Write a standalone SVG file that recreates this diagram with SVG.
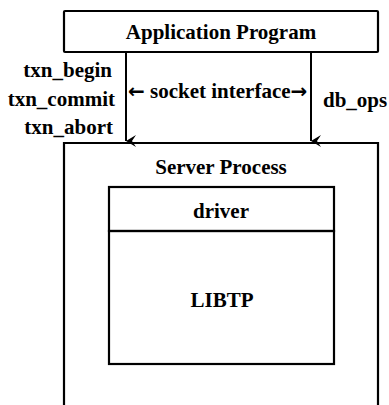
<svg xmlns="http://www.w3.org/2000/svg" width="389" height="405" viewBox="0 0 389 405">
<style>
  text { font-family: "Liberation Serif", "Times New Roman", serif; font-weight: bold; font-size: 21px; fill: #000; }
  .c { text-anchor: middle; }
  .e { text-anchor: end; }
  .arr { font-family: "DejaVu Sans", sans-serif; font-size: 20px; }
  .box { fill: none; stroke: #000; stroke-width: 2.2; }
  .conn { stroke: #000; stroke-width: 2; fill: none; }
</style>
<defs>
  <marker id="ah" viewBox="0 0 12 10" refX="6" refY="10" markerWidth="12" markerHeight="10" markerUnits="userSpaceOnUse" orient="auto-start-reverse">
    <path d="M0,0 L6,10 L12,0 L6,4 Z" fill="#000"/>
  </marker>
</defs>
<rect width="389" height="405" fill="#fff"/>
<g id="app">
  <rect class="box" x="64" y="11" width="314" height="41" rx="1"/>
  <text class="c" x="221" y="39">Application Program</text>
</g>
<g id="server">
  <path class="box" d="M64,410 V143 H378 V410"/>
  <text class="c" x="221" y="174">Server Process</text>
</g>
<g id="driver">
  <rect class="box" x="109" y="187" width="225" height="44"/>
  <text class="c" x="221" y="218">driver</text>
</g>
<g id="libtp">
  <rect class="box" x="109" y="231" width="225" height="133"/>
  <text class="c" x="222" y="307">LIBTP</text>
</g>
<g id="connectors">
  <line class="conn" x1="126" y1="52" x2="126" y2="141" marker-end="url(#ah)"/>
  <line class="conn" x1="311" y1="52" x2="311" y2="141" marker-end="url(#ah)"/>
  <text class="e" x="112" y="77">txn_begin</text>
  <text class="e" x="115" y="106">txn_commit</text>
  <text class="e" x="113" y="134">txn_abort</text>
  <text x="128" y="98"><tspan class="arr">←</tspan> socket interface<tspan class="arr">→</tspan></text>
  <text x="323" y="107">db_ops</text>
</g>
</svg>
